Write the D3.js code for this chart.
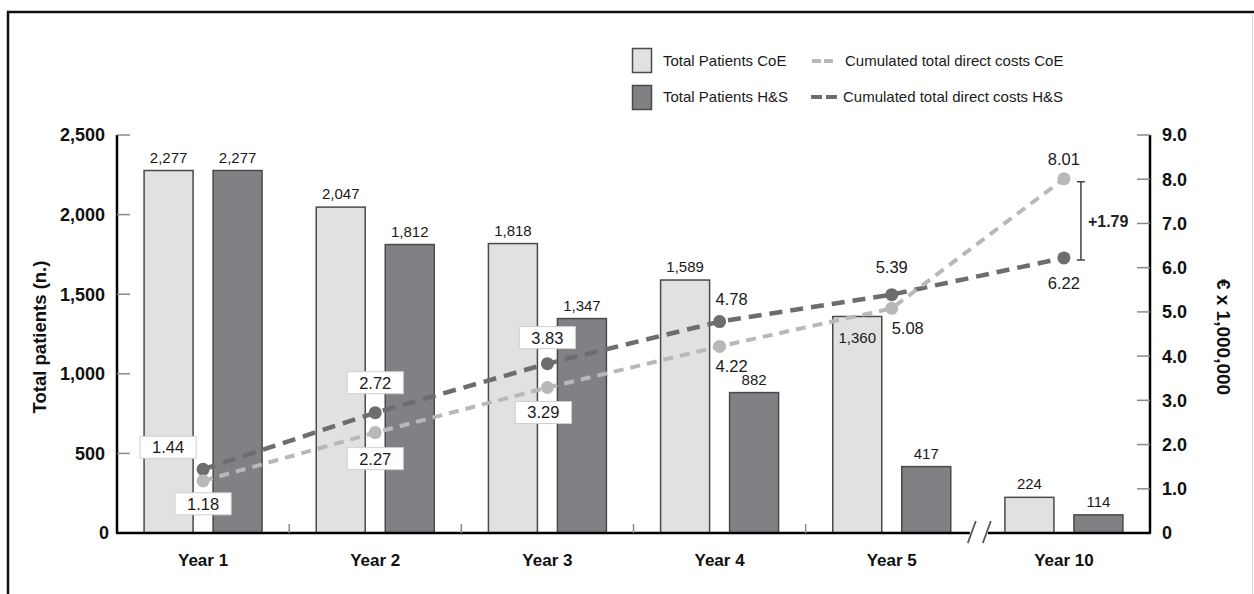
<!DOCTYPE html>
<html>
<head>
<meta charset="utf-8">
<script src="https://cdn.jsdelivr.net/npm/d3@7/dist/d3.min.js"></script>
<style>
  html, body { margin: 0; padding: 0; background: #fff; }
  svg { display: block; font-family: "Liberation Sans", Arial, Helvetica, sans-serif; }
</style>
</head>
<body>
<svg id="chart" width="1254" height="594"></svg>
<script>
// Patient counts per year and cumulated direct costs (million €)
const years = ["Year 1", "Year 2", "Year 3", "Year 4", "Year 5", "Year 10"];
const patientsCoE = [2277, 2047, 1818, 1589, 1360, 224];
const patientsHS = [2277, 1812, 1347, 882, 417, 114];
const costsCoE = [1.18, 2.27, 3.29, 4.22, 5.08, 8.01];
const costsHS = [1.44, 2.72, 3.83, 4.78, 5.39, 6.22];
const patientTicks = [0, 500, 1000, 1500, 2000, 2500];
const costTicks = [0, 1, 2, 3, 4, 5, 6, 7, 8, 9];
const costGapLabel = "+1.79";

// Label placement for the cost points (offset from the point, boxed or plain)
const coeLabelPlace = [
  { dx: 0, dy: 23, box: true }, { dx: 0, dy: 26, box: true }, { dx: -4, dy: 25, box: true },
  { dx: 12, dy: 20, box: false }, { dx: 16, dy: 20, box: false }, { dx: 0, dy: -20, box: false }
];
const hsLabelPlace = [
  { dx: -35, dy: -22, box: true }, { dx: 0, dy: -30, box: true }, { dx: 0, dy: -26, box: true },
  { dx: 12, dy: -23, box: false }, { dx: 0, dy: -28, box: false }, { dx: 0, dy: 25, box: false }
];
// bar labels drawn inside the bar top instead of above it
const insideLabel = { coe: ["Year 5"], hs: [] };

const svg = d3.select("#chart");
const W = 1254, H = 594;

const colCoE = "#e1e1e1", colHS = "#818185", barStroke = "#4a4a4a";
const lineCoE = "#b8b8b8", lineHS = "#6d6d6f";

// outer frame
svg.append("rect").attr("x", 8).attr("y", 12).attr("width", W + 20).attr("height", H + 20)
  .attr("fill", "none").attr("stroke", "#111").attr("stroke-width", 2.5);
svg.append("line").attr("x1", 1252.5).attr("x2", 1252.5).attr("y1", 13).attr("y2", H)
  .attr("stroke", "#d8d8d8").attr("stroke-width", 1);

const plotL = 117, plotR = 1150, plotT = 135, plotB = 533;

const x = d3.scaleBand().domain(years).range([plotL, plotR]).padding(0);
const yL = d3.scaleLinear().domain([0, 2500]).range([plotB, plotT]);
const yR = d3.scaleLinear().domain([0, 9]).range([plotB, plotT]);

const barW = 49, barOff = 34.5;
const cx = d => x(d) + x.bandwidth() / 2;

// left axis
const gL = svg.append("g");
gL.append("line").attr("x1", plotL).attr("x2", plotL).attr("y1", plotT).attr("y2", plotB)
  .attr("stroke", "#000").attr("stroke-width", 2.5);
gL.selectAll("line.t").data(patientTicks).join("line").attr("class", "t")
  .attr("x1", plotL).attr("x2", plotL + 13).attr("y1", d => yL(d)).attr("y2", d => yL(d))
  .attr("stroke", "#8a8a8a").attr("stroke-width", 1.5);
gL.selectAll("text").data(patientTicks).join("text")
  .attr("x", d => d === 0 ? 109 : 105).attr("y", d => yL(d)).attr("dy", "0.36em")
  .attr("text-anchor", "end").attr("font-size", 18).attr("font-weight", "bold").attr("fill", "#111")
  .text(d => d3.format(",")(d));
svg.append("text").attr("transform", "translate(46,337) rotate(-90)")
  .attr("text-anchor", "middle").attr("font-size", 18.5).attr("font-weight", "bold").attr("fill", "#111")
  .text("Total patients (n.)");

// right axis
const gR = svg.append("g");
gR.append("line").attr("x1", plotR).attr("x2", plotR).attr("y1", plotT).attr("y2", plotB)
  .attr("stroke", "#000").attr("stroke-width", 2.5);
gR.selectAll("line.t").data(costTicks).join("line").attr("class", "t")
  .attr("x1", plotR - 13).attr("x2", plotR).attr("y1", d => yR(d)).attr("y2", d => yR(d))
  .attr("stroke", "#8a8a8a").attr("stroke-width", 1.5);
gR.selectAll("text").data(costTicks).join("text")
  .attr("x", 1162).attr("y", d => yR(d)).attr("dy", "0.36em")
  .attr("text-anchor", "start").attr("font-size", 18).attr("font-weight", "bold").attr("fill", "#111")
  .text(d => d === 0 ? "0" : d.toFixed(1));
svg.append("text").attr("transform", "translate(1217,337) rotate(90)")
  .attr("text-anchor", "middle").attr("font-size", 19).attr("font-weight", "bold").attr("fill", "#111")
  .text("€ x 1,000,000");

// bars
const rows = years.map((y, i) => ({ year: y, coe: patientsCoE[i], hs: patientsHS[i] }));
const gB = svg.append("g");
gB.selectAll("rect.coe").data(rows).join("rect").attr("class", "coe")
  .attr("x", d => cx(d.year) - barOff - barW / 2).attr("width", barW)
  .attr("y", d => yL(d.coe)).attr("height", d => yL(0) - yL(d.coe))
  .attr("fill", colCoE).attr("stroke", barStroke).attr("stroke-width", 1.5);
gB.selectAll("rect.hs").data(rows).join("rect").attr("class", "hs")
  .attr("x", d => cx(d.year) + barOff - barW / 2).attr("width", barW)
  .attr("y", d => yL(d.hs)).attr("height", d => yL(0) - yL(d.hs))
  .attr("fill", colHS).attr("stroke", barStroke).attr("stroke-width", 1.5);

gB.selectAll("text.coe").data(rows).join("text").attr("class", "coe")
  .attr("x", d => cx(d.year) - barOff)
  .attr("y", d => insideLabel.coe.includes(d.year) ? yL(d.coe) + 27 : yL(d.coe) - 8)
  .attr("text-anchor", "middle").attr("font-size", 15).attr("fill", "#1a1a1a")
  .text(d => d3.format(",")(d.coe));
gB.selectAll("text.hs").data(rows).join("text").attr("class", "hs")
  .attr("x", d => cx(d.year) + barOff)
  .attr("y", d => insideLabel.hs.includes(d.year) ? yL(d.hs) + 27 : yL(d.hs) - 8)
  .attr("text-anchor", "middle").attr("font-size", 15).attr("fill", "#1a1a1a")
  .text(d => d3.format(",")(d.hs));

// baseline with a break between Year 5 and Year 10
const breakX = x(years[5]);
svg.append("line").attr("x1", plotL - 1).attr("x2", breakX - 8).attr("y1", plotB).attr("y2", plotB)
  .attr("stroke", "#000").attr("stroke-width", 2.5);
svg.append("line").attr("x1", breakX + 10).attr("x2", plotR + 1).attr("y1", plotB).attr("y2", plotB)
  .attr("stroke", "#000").attr("stroke-width", 2.5);
[-6, 9].forEach(o => {
  svg.append("line").attr("x1", breakX + o - 4).attr("x2", breakX + o + 4)
    .attr("y1", plotB + 10).attr("y2", plotB - 12)
    .attr("stroke", "#555").attr("stroke-width", 1.8);
});
// small category separators
svg.selectAll("line.sep").data(years.slice(1, 5)).join("line").attr("class", "sep")
  .attr("x1", d => x(d)).attr("x2", d => x(d)).attr("y1", plotB).attr("y2", plotB - 9)
  .attr("stroke", "#8a8a8a").attr("stroke-width", 1.5);
svg.selectAll("text.year").data(years).join("text").attr("class", "year")
  .attr("x", d => cx(d)).attr("y", 566).attr("text-anchor", "middle")
  .attr("font-size", 17).attr("font-weight", "bold").attr("fill", "#111").text(d => d);

// cost lines
const line = d3.line().x(d => cx(d.year)).y(d => yR(d.v));
function costSeries(vals) { return years.map((y, i) => ({ year: y, v: vals[i] })); }
const sCoE = costSeries(costsCoE), sHS = costSeries(costsHS);

svg.append("path").datum(sHS).attr("d", line).attr("fill", "none")
  .attr("stroke", lineHS).attr("stroke-width", 4.5).attr("stroke-dasharray", "13,8");
svg.append("path").datum(sCoE).attr("d", line).attr("fill", "none")
  .attr("stroke", lineCoE).attr("stroke-width", 4).attr("stroke-dasharray", "10,7");
svg.selectAll("circle.hs").data(sHS).join("circle").attr("class", "hs")
  .attr("cx", d => cx(d.year)).attr("cy", d => yR(d.v)).attr("r", 6.5).attr("fill", lineHS);
svg.selectAll("circle.coe").data(sCoE).join("circle").attr("class", "coe")
  .attr("cx", d => cx(d.year)).attr("cy", d => yR(d.v)).attr("r", 6.5).attr("fill", lineCoE);

// point labels
function pointLabels(series, place) {
  series.forEach((d, i) => {
    const p = place[i];
    const lx = cx(d.year) + p.dx, ly = yR(d.v) + p.dy;
    const g = svg.append("g");
    const t = g.append("text").attr("x", lx).attr("y", ly).attr("dy", "0.36em")
      .attr("text-anchor", "middle").attr("font-size", 16.5).attr("fill", "#1a1a1a")
      .text(d.v.toFixed(2));
    if (p.box) {
      const bw = t.node().getComputedTextLength() + 24;
      g.insert("rect", "text").attr("x", lx - bw / 2).attr("y", ly - 11).attr("width", bw).attr("height", 22)
        .attr("fill", "#fff").attr("stroke", "#cfcfcf").attr("stroke-width", 1);
    }
  });
}
pointLabels(sCoE, coeLabelPlace);
pointLabels(sHS, hsLabelPlace);

// bracket showing the Year 10 cost difference
const bx = cx(years[5]) + 17;
const bTop = yR(costsCoE[5]) + 3, bBot = yR(costsHS[5]) + 2;
const gBr = svg.append("g").attr("stroke", "#444").attr("stroke-width", 1.5);
gBr.append("line").attr("x1", bx).attr("x2", bx).attr("y1", bTop).attr("y2", bBot);
gBr.append("line").attr("x1", bx - 4).attr("x2", bx + 4).attr("y1", bTop).attr("y2", bTop);
gBr.append("line").attr("x1", bx - 4).attr("x2", bx + 4).attr("y1", bBot).attr("y2", bBot);
svg.append("text").attr("x", bx + 7).attr("y", (bTop + bBot) / 2).attr("dy", "0.36em")
  .attr("font-size", 16).attr("font-weight", "bold").attr("fill", "#222").text(costGapLabel);

// legend
const lg = svg.append("g");
lg.append("rect").attr("x", 632.5).attr("y", 48.5).attr("width", 19).attr("height", 24)
  .attr("fill", colCoE).attr("stroke", barStroke).attr("stroke-width", 1.5);
lg.append("rect").attr("x", 632.5).attr("y", 85.5).attr("width", 19).attr("height", 24)
  .attr("fill", colHS).attr("stroke", barStroke).attr("stroke-width", 1.5);
lg.append("text").attr("x", 663).attr("y", 61).attr("dy", "0.36em").attr("font-size", 15)
  .attr("fill", "#1a1a1a").text("Total Patients CoE");
lg.append("text").attr("x", 663).attr("y", 97).attr("dy", "0.36em").attr("font-size", 15)
  .attr("fill", "#1a1a1a").text("Total Patients H&S");
lg.append("line").attr("x1", 812).attr("x2", 834).attr("y1", 61).attr("y2", 61)
  .attr("stroke", lineCoE).attr("stroke-width", 4).attr("stroke-dasharray", "9,3");
lg.append("line").attr("x1", 811).attr("x2", 837).attr("y1", 97).attr("y2", 97)
  .attr("stroke", lineHS).attr("stroke-width", 4).attr("stroke-dasharray", "11,4");
lg.append("text").attr("x", 845).attr("y", 61).attr("dy", "0.36em").attr("font-size", 15)
  .attr("fill", "#1a1a1a").text("Cumulated total direct costs CoE");
lg.append("text").attr("x", 843).attr("y", 97).attr("dy", "0.36em").attr("font-size", 15)
  .attr("fill", "#1a1a1a").text("Cumulated total direct costs H&S");
</script>
</body>
</html>
